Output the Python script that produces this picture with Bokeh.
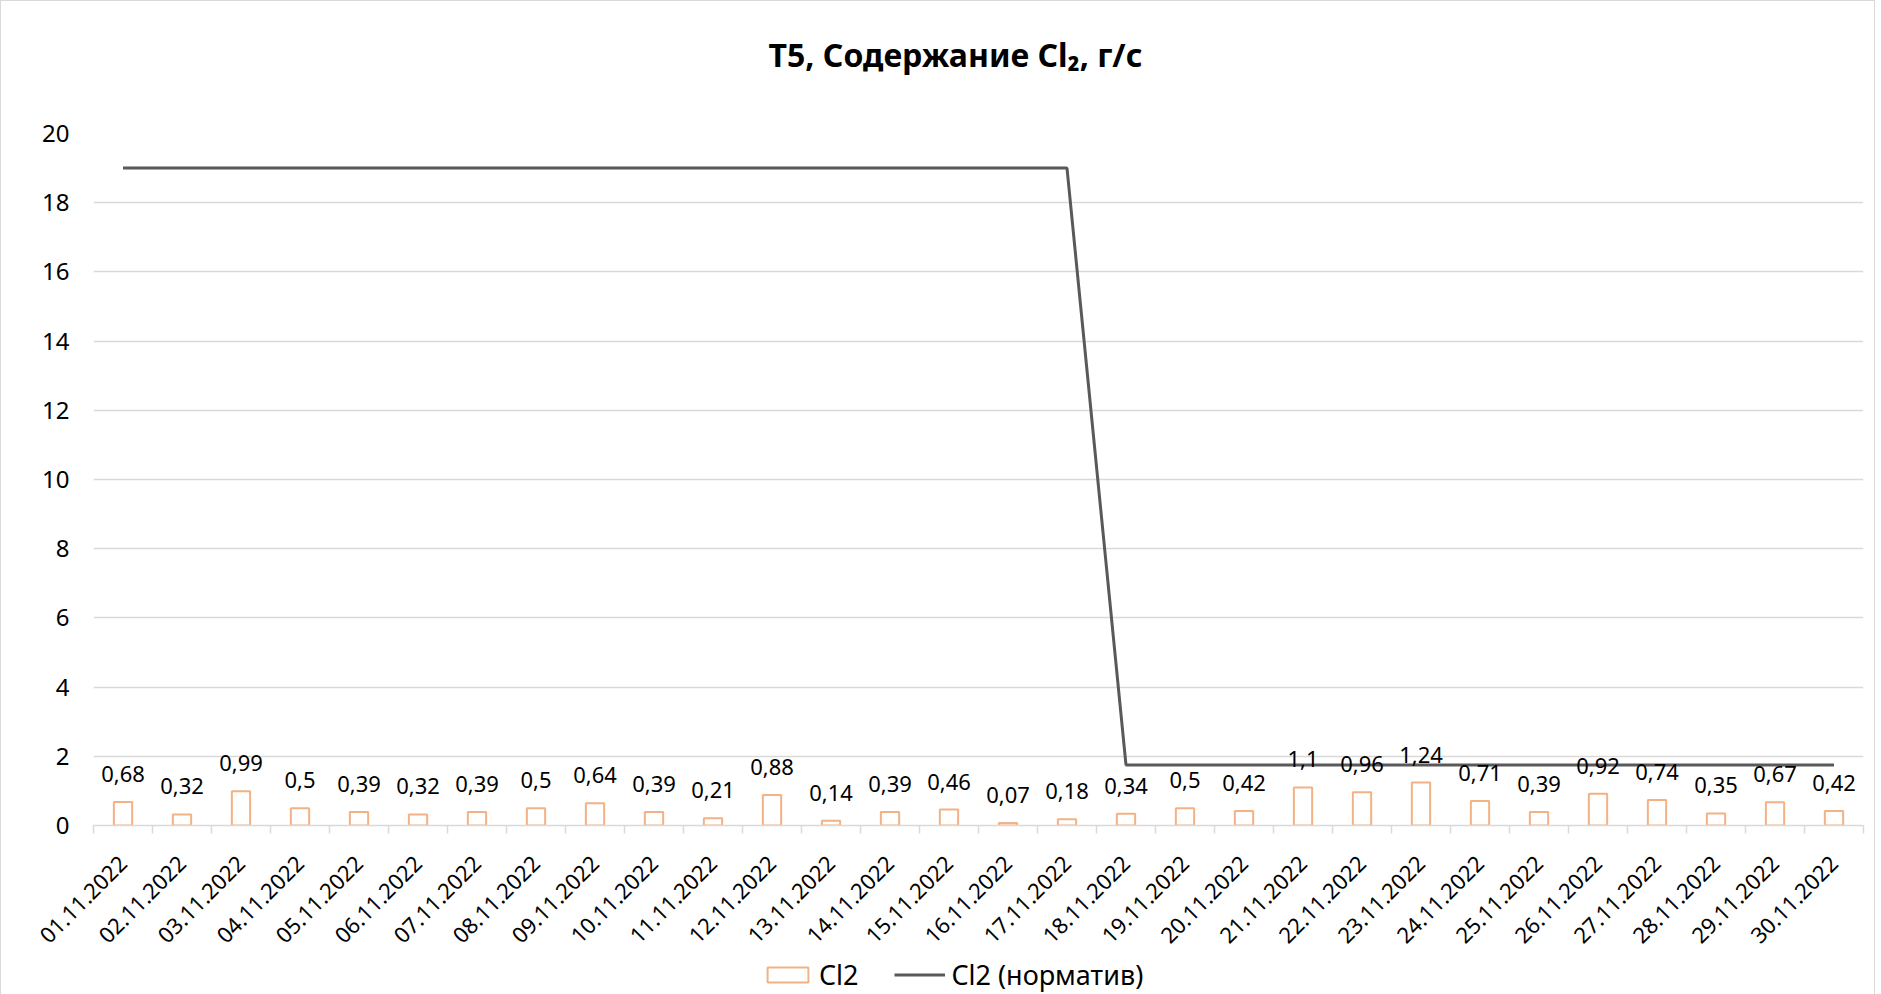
from math import pi
from bokeh.plotting import figure
from bokeh.layouts import column
from bokeh.models import FixedTicker, Legend, LegendItem, Range1d, ColumnDataSource, Label
from bokeh.embed import file_html
from bokeh.resources import INLINE
from bokeh.core.properties import value

dates = ["01.11.2022", "02.11.2022", "03.11.2022", "04.11.2022", "05.11.2022",
         "06.11.2022", "07.11.2022", "08.11.2022", "09.11.2022", "10.11.2022",
         "11.11.2022", "12.11.2022", "13.11.2022", "14.11.2022", "15.11.2022",
         "16.11.2022", "17.11.2022", "18.11.2022", "19.11.2022", "20.11.2022",
         "21.11.2022", "22.11.2022", "23.11.2022", "24.11.2022", "25.11.2022",
         "26.11.2022", "27.11.2022", "28.11.2022", "29.11.2022", "30.11.2022"]
cl2 = [0.68, 0.32, 0.99, 0.5, 0.39, 0.32, 0.39, 0.5, 0.64, 0.39,
       0.21, 0.88, 0.14, 0.39, 0.46, 0.07, 0.18, 0.34, 0.5, 0.42,
       1.1, 0.96, 1.24, 0.71, 0.39, 0.92, 0.74, 0.35, 0.67, 0.42]
norm = [19, 19, 19, 19, 19, 19, 19, 19, 19, 19,
        19, 19, 19, 19, 19, 19, 19, 1.75, 1.75, 1.75,
        1.75, 1.75, 1.75, 1.75, 1.75, 1.75, 1.75, 1.75, 1.75, 1.75]
y_ticks = [0, 2, 4, 6, 8, 10, 12, 14, 16, 18, 20]
title_text = "T5, Содержание Cl₂, г/с"

FONT = "Noto Sans"
W = 1873
BAR_COLOR = "#F4B183"
LINE_COLOR = "#595959"
xs = list(range(len(dates)))
src = ColumnDataSource(dict(x=xs, cl2=cl2, norm=norm,
                            lbl=[str(v).replace(".", ",") for v in cl2]))


def blank(height, y_range):
    f = figure(width=W, height=height, x_range=Range1d(-0.5, len(dates) - 0.5),
               y_range=y_range, output_backend="svg", toolbar_location=None,
               x_axis_location=None, y_axis_location=None, min_border=0)
    f.outline_line_color = None
    f.grid.visible = False
    return f


# ---- title strip (frame is aligned with the main chart's frame by the column)
top = blank(100, Range1d(0, 1))
top.add_layout(Label(x=862, y=47, x_units="screen", y_units="screen", text=title_text,
                     text_align="center", text_baseline="middle", text_font=FONT,
                     text_font_style="bold", text_font_size="32px", text_color="#000000"))

# ---- main chart
p = figure(width=W, height=852, x_range=Range1d(-0.5, len(dates) - 0.5),
           y_range=Range1d(0, 20), output_backend="svg", toolbar_location=None,
           min_border_left=92, min_border_right=11, min_border_top=32,
           min_border_bottom=126)
p.outline_line_color = None

p.xaxis.ticker = FixedTicker(ticks=xs, minor_ticks=[i - 0.5 for i in range(len(dates) + 1)])
p.xaxis.major_label_overrides = {i: d for i, d in enumerate(dates)}
p.xaxis.major_label_orientation = pi / 4
p.xaxis.major_tick_out = 0
p.xaxis.major_tick_in = 0
p.xaxis.minor_tick_out = 8
p.xaxis.minor_tick_in = 0
p.xaxis.minor_tick_line_color = "#D9D9D9"
p.xaxis.minor_tick_line_width = 1.5
p.xaxis.axis_line_color = "#D9D9D9"
p.xaxis.axis_line_width = 1.5
p.xaxis.major_label_standoff = 26
p.xaxis.major_label_text_font = FONT
p.xaxis.major_label_text_font_size = "22px"
p.xaxis.major_label_text_color = "#000000"

p.yaxis.ticker = FixedTicker(ticks=y_ticks)
p.yaxis.axis_line_color = None
p.yaxis.major_tick_out = 0
p.yaxis.major_tick_in = 0
p.yaxis.minor_tick_line_color = None
p.yaxis.major_label_standoff = 24
p.yaxis.major_label_text_font = FONT
p.yaxis.major_label_text_font_size = "24px"
p.yaxis.major_label_text_color = "#000000"

p.xgrid.grid_line_color = None
p.ygrid.grid_line_color = "#D9D9D9"
p.ygrid.grid_line_width = 1.5

p.vbar(x="x", top="cl2", width=0.31, source=src, fill_color="white",
       line_color=BAR_COLOR, line_width=2)
p.line(x="x", y="norm", source=src, line_color=LINE_COLOR, line_width=3)
p.text(x="x", y="cl2", text="lbl", source=src, text_align="center",
       text_baseline="bottom", y_offset=-20, text_font=value(FONT),
       text_font_size="22px", text_color="#000000")

# ---- legend strip (same series, drawn outside its visible y window)
leg = blank(42, Range1d(100, 101))
lb = leg.vbar(x="x", top="cl2", width=0.31, source=src, fill_color="white",
              line_color=BAR_COLOR, line_width=2)
ll = leg.line(x="x", y="norm", source=src, line_color=LINE_COLOR, line_width=3)
legend = Legend(items=[LegendItem(label="Cl2", renderers=[lb]),
                       LegendItem(label="Cl2 (норматив)", renderers=[ll])],
                orientation="horizontal", location=(669, 2),
                padding=0, margin=0, spacing=36, label_standoff=6,
                glyph_width=51, glyph_height=19,
                label_text_font=FONT, label_text_font_size="27px",
                label_text_color="#000000",
                background_fill_alpha=0, border_line_color=None)
leg.add_layout(legend)

layout = column(top, p, leg, spacing=0)
layout.styles = {"border": "1px solid #D9D9D9"}

open("out.html", "w").write(file_html(layout, INLINE))
